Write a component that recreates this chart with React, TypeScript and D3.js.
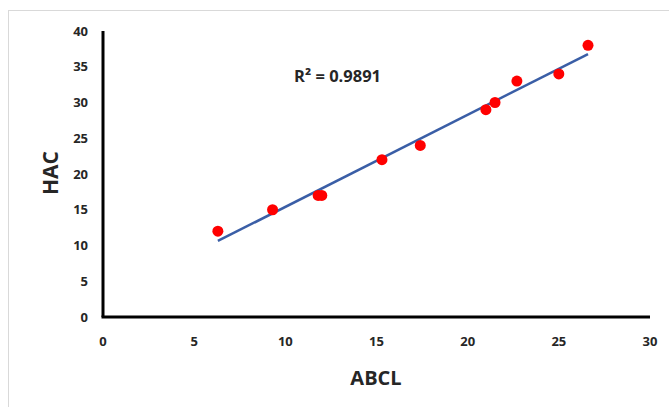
import React from "react";
import * as d3 from "d3";

// ABCL (x) and HAC (y) observations
const abcl = [6.3, 9.3, 11.8, 12.0, 15.3, 17.4, 21.0, 21.5, 22.7, 25.0, 26.6];
const hac = [12, 15, 17, 17, 22, 24, 29, 30, 33, 34, 38];
const xTicks = [0, 5, 10, 15, 20, 25, 30];
const yTicks = [0, 5, 10, 15, 20, 25, 30, 35, 40];
const rSquaredLabel = "R² = 0.9891";

const W = 669;
const H = 407;
const font = "'Open Sans', 'Noto Sans', sans-serif";

export default function App() {
  const x = d3.scaleLinear().domain([0, 30]).range([103, 650]);
  const y = d3.scaleLinear().domain([0, 40]).range([317, 31]);

  // least squares trendline
  const mx = d3.mean(abcl) as number;
  const my = d3.mean(hac) as number;
  let sxy = 0, sxx = 0;
  abcl.forEach((v, i) => {
    sxy += (v - mx) * (hac[i] - my);
    sxx += (v - mx) * (v - mx);
  });
  const slope = sxy / sxx;
  const icpt = my - slope * mx;
  const x0 = d3.min(abcl) as number;
  const x1 = d3.max(abcl) as number;
  const trend = d3.line<number>().x(d => x(d)).y(d => y(icpt + slope * d));

  return (
    <svg width={W} height={H} style={{ position: "absolute", left: 0, top: 0 }} fontFamily={font}>
      <rect x={0} y={0} width={W} height={H} fill="#fff" />
      <rect x={8.5} y={10.5} width={W} height={H} fill="none" stroke="#d9d9d9" />
      {/* axes */}
      <line x1={x(0)} x2={x(0)} y1={y(40)} y2={y(0)} stroke="#000" strokeWidth={3} />
      <line x1={x(0) - 1.5} x2={x(30)} y1={y(0)} y2={y(0)} stroke="#000" strokeWidth={3} />
      {yTicks.map(t => (
        <text key={"y" + t} x={88} y={y(t)} dy="0.35em" textAnchor="end" fontSize={13} fontWeight="bold" fill="#262626">{t}</text>
      ))}
      {xTicks.map(t => (
        <text key={"x" + t} x={x(t)} y={341} dy="0.35em" textAnchor="middle" fontSize={13} fontWeight="bold" fill="#262626">{t}</text>
      ))}
      <text x={376} y={378} dy="0.35em" textAnchor="middle" fontSize={20} fontWeight="bold" fill="#262626">ABCL</text>
      <text transform="translate(51,173) rotate(-90)" dy="0.35em" textAnchor="middle" fontSize={21} fontWeight="bold" fill="#262626">HAC</text>
      <path d={trend([x0, x1]) as string} stroke="#3a5ea6" strokeWidth={2.5} fill="none" />
      {abcl.map((v, i) => (
        <circle key={i} cx={x(v)} cy={y(hac[i])} r={5.5} fill="#ff0000" />
      ))}
      <text x={294} y={76} dy="0.35em" fontSize={16.5} fontWeight="bold" fill="#262626">{rSquaredLabel}</text>
    </svg>
  );
}
